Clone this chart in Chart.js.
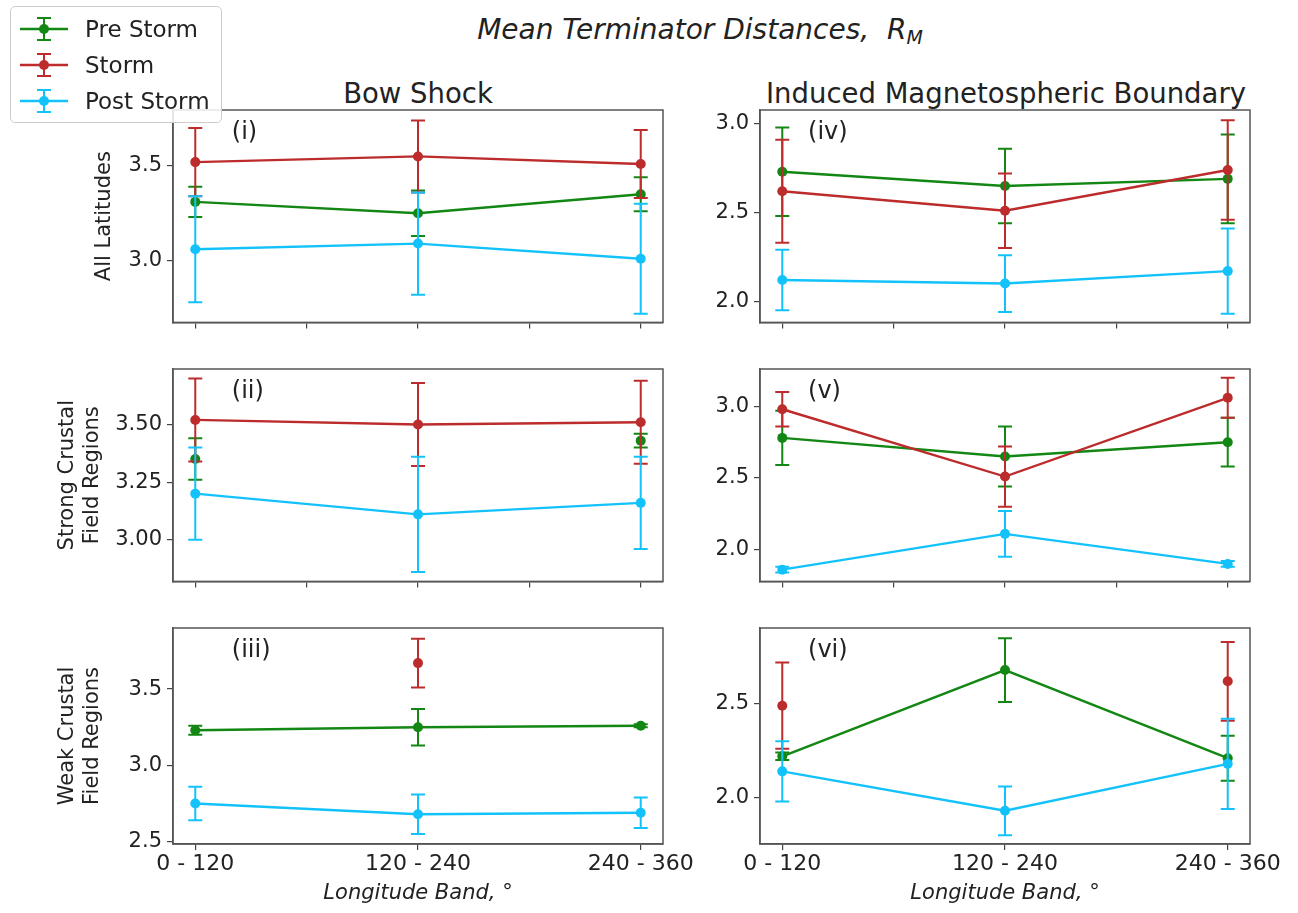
<!DOCTYPE html>
<html>
<head>
<meta charset="utf-8">
<script src="https://cdn.jsdelivr.net/npm/chart.js@4.4.0/dist/chart.umd.min.js"></script>
<style>
  html, body { margin: 0; padding: 0; background: #fff; }
  body { width: 1298px; height: 913px; position: relative; overflow: hidden;
         font-family: 'DejaVu Sans', sans-serif; color: #222; }
  .box { position: absolute; }
  .title { position: absolute; white-space: nowrap; transform: translate(-50%, -50%); }
  #suptitle { left: 700px; top: 30px; font-size: 28px; font-style: italic; }
  #suptitle sub { font-size: 19px; vertical-align: -5px; }
  .coltitle { top: 93px; font-size: 27.5px; }
  #legend { position: absolute; left: 10px; top: 6px; width: 212px; height: 117px;
            border: 1px solid #ccc; border-radius: 5px; background: rgba(255,255,255,0.85);
            z-index: 10; box-sizing: border-box; padding-top: 4px; }
  .lrow { height: 36px; display: flex; align-items: center; font-size: 23px; }
  .lrow svg { margin-left: 8px; margin-right: 16px; }
</style>
</head>
<body>
<div id="suptitle" class="title">Mean Terminator Distances,&nbsp; R<sub>M</sub></div>
<div class="title coltitle" style="left:418px">Bow Shock</div>
<div class="title coltitle" style="left:1006px">Induced Magnetospheric Boundary</div>
<div id="legend"></div>

<script>
const bands = ['0 - 120', '120 - 240', '240 - 360'];
const seriesNames = ['Pre Storm', 'Storm', 'Post Storm'];
const seriesColors = ['#138713', '#bd2c2c', '#14c2fb'];

// (i) Bow Shock, all latitudes
const bsAllPre = [3.31, 3.25, 3.35];
const bsAllPreErr = [0.08, 0.12, 0.09];
const bsAllStorm = [3.52, 3.55, 3.51];
const bsAllStormErr = [0.18, 0.19, 0.18];
const bsAllPost = [3.06, 3.09, 3.01];
const bsAllPostErr = [0.28, 0.27, 0.29];

// (ii) Bow Shock, strong crustal field
const bsStrongPre = [3.35, null, 3.43];
const bsStrongPreErr = [0.09, null, 0.03];
const bsStrongStorm = [3.52, 3.50, 3.51];
const bsStrongStormErr = [0.18, 0.18, 0.18];
const bsStrongPost = [3.20, 3.11, 3.16];
const bsStrongPostErr = [0.20, 0.25, 0.20];

// (iii) Bow Shock, weak crustal field
const bsWeakPre = [3.23, 3.25, 3.26];
const bsWeakPreErr = [0.03, 0.12, 0.01];
const bsWeakStorm = [null, 3.67, null];
const bsWeakStormErr = [null, 0.16, null];
const bsWeakPost = [2.75, 2.68, 2.69];
const bsWeakPostErr = [0.11, 0.13, 0.10];

// (iv) IMB, all latitudes
const imbAllPre = [2.73, 2.65, 2.69];
const imbAllPreErr = [0.25, 0.21, 0.25];
const imbAllStorm = [2.62, 2.51, 2.74];
const imbAllStormErr = [0.29, 0.21, 0.28];
const imbAllPost = [2.12, 2.10, 2.17];
const imbAllPostErr = [0.17, 0.16, 0.24];

// (v) IMB, strong crustal field
const imbStrongPre = [2.78, 2.65, 2.75];
const imbStrongPreErr = [0.19, 0.21, 0.17];
const imbStrongStorm = [2.98, 2.51, 3.06];
const imbStrongStormErr = [0.12, 0.21, 0.14];
const imbStrongPost = [1.86, 2.11, 1.90];
const imbStrongPostErr = [0.02, 0.16, 0.02];

// (vi) IMB, weak crustal field
const imbWeakPre = [2.22, 2.68, 2.21];
const imbWeakPreErr = [0.02, 0.17, 0.12];
const imbWeakStorm = [2.49, null, 2.62];
const imbWeakStormErr = [0.23, null, 0.21];
const imbWeakPost = [2.14, 1.93, 2.18];
const imbWeakPostErr = [0.16, 0.13, 0.24];

const panels = [
  { row: 0, col: 0, tag: '(i)', ylabel: ['All Latitudes'], ytp: 92, ymin: 2.674, ymax: 3.795, yticks: [3.0, 3.5], dec: 1,
    means: [bsAllPre, bsAllStorm, bsAllPost], errs: [bsAllPreErr, bsAllStormErr, bsAllPostErr] },
  { row: 1, col: 0, tag: '(ii)', ylabel: ['Strong Crustal', 'Field Regions'], ytp: 55, ymin: 2.819, ymax: 3.741, yticks: [3.0, 3.25, 3.5], dec: 2,
    means: [bsStrongPre, bsStrongStorm, bsStrongPost], errs: [bsStrongPreErr, bsStrongStormErr, bsStrongPostErr] },
  { row: 2, col: 0, tag: '(iii)', ylabel: ['Weak Crustal', 'Field Regions'], ytp: 55, ymin: 2.485, ymax: 3.90, yticks: [2.5, 3.0, 3.5], dec: 1,
    means: [bsWeakPre, bsWeakStorm, bsWeakPost], errs: [bsWeakPreErr, bsWeakStormErr, bsWeakPostErr] },
  { row: 0, col: 1, tag: '(iv)', ymin: 1.881, ymax: 3.078, yticks: [2.0, 2.5, 3.0], dec: 1,
    means: [imbAllPre, imbAllStorm, imbAllPost], errs: [imbAllPreErr, imbAllStormErr, imbAllPostErr] },
  { row: 1, col: 1, tag: '(v)', ymin: 1.778, ymax: 3.261, yticks: [2.0, 2.5, 3.0], dec: 1,
    means: [imbStrongPre, imbStrongStorm, imbStrongPost], errs: [imbStrongPreErr, imbStrongStormErr, imbStrongPostErr] },
  { row: 2, col: 1, tag: '(vi)', ymin: 1.753, ymax: 2.904, yticks: [2.0, 2.5], dec: 1,
    means: [imbWeakPre, imbWeakStorm, imbWeakPost], errs: [imbWeakPreErr, imbWeakStormErr, imbWeakPostErr] },
];

// legend
const legend = document.getElementById('legend');
seriesNames.forEach((name, k) => {
  const c = seriesColors[k];
  const row = document.createElement('div');
  row.className = 'lrow';
  row.innerHTML =
    `<svg width="50" height="30">
       <line x1="1" y1="15" x2="49" y2="15" stroke="${c}" stroke-width="2.4"/>
       <line x1="25" y1="4" x2="25" y2="26" stroke="${c}" stroke-width="2"/>
       <line x1="18" y1="4" x2="32" y2="4" stroke="${c}" stroke-width="2"/>
       <line x1="18" y1="26" x2="32" y2="26" stroke="${c}" stroke-width="2"/>
       <circle cx="25" cy="15" r="5" fill="${c}"/>
     </svg><span>${name}</span>`;
  legend.appendChild(row);
});

// error bars drawn just before each dataset so z-order follows the series
const errorBars = {
  id: 'errorBars',
  beforeDatasetDraw(chart, args) {
    const ds = chart.data.datasets[args.index];
    if (!ds.errors) return;
    const xs = chart.scales.x, ys = chart.scales.y, ctx = chart.ctx;
    ctx.save();
    ctx.strokeStyle = ds.borderColor;
    ctx.lineWidth = 2;
    ds.data.forEach((pt, i) => {
      const e = ds.errors[i];
      if (pt.y == null || e == null) return;
      const x = xs.getPixelForValue(pt.x);
      const y1 = ys.getPixelForValue(pt.y + e);
      const y2 = ys.getPixelForValue(pt.y - e);
      ctx.beginPath();
      ctx.moveTo(x, y1); ctx.lineTo(x, y2);
      ctx.moveTo(x - 7, y1); ctx.lineTo(x + 7, y1);
      ctx.moveTo(x - 7, y2); ctx.lineTo(x + 7, y2);
      ctx.stroke();
    });
    ctx.restore();
  }
};

// box round the plot area + panel tag
const frame = {
  id: 'frame',
  afterDraw(chart, args, opts) {
    const { ctx, chartArea: a } = chart;
    ctx.save();
    ctx.strokeStyle = '#555';
    ctx.lineWidth = 1.5;
    ctx.strokeRect(a.left, a.top, a.right - a.left, a.bottom - a.top);
    ctx.font = '24px "DejaVu Sans"';
    ctx.fillStyle = '#222';
    ctx.textBaseline = 'middle';
    ctx.fillText(opts.tag, a.left + opts.tx * (a.right - a.left), a.top + 0.105 * (a.bottom - a.top));
    ctx.restore();
  }
};

const frameX = [[173, 663], [760, 1250]];
const frameY = [[110, 326], [369, 585], [628, 844]];
const axisW = [173, 70];
const xAxisH = [14, 14, 66];
const padTop = 24, padRight = 48;
const fam = "'DejaVu Sans', sans-serif";

panels.forEach(p => {
  const bottom = p.row === 2;
  const [fx0, fx1] = frameX[p.col];
  const [fy0, fy1] = frameY[p.row];
  const left = fx0 - axisW[p.col], top = fy0 - padTop;
  const div = document.createElement('div');
  div.className = 'box';
  div.style.cssText = `left:${left}px;top:${top}px;width:${fx1 - left + padRight}px;height:${fy1 - top + xAxisH[p.row]}px`;
  const cv = document.createElement('canvas');
  div.appendChild(cv);
  document.body.appendChild(div);

  new Chart(cv, {
    type: 'line',
    data: {
      datasets: seriesNames.map((name, k) => ({
        label: name,
        data: p.means[k].map((v, i) => ({ x: i, y: v })),
        errors: p.errs[k],
        borderColor: seriesColors[k],
        backgroundColor: seriesColors[k],
        pointBackgroundColor: seriesColors[k],
        pointBorderWidth: 0,
        pointRadius: 5,
        borderWidth: 2.4,
        order: 3 - k
      }))
    },
    plugins: [errorBars, frame],
    options: {
      responsive: true,
      maintainAspectRatio: false,
      animation: false,
      events: [],
      layout: { padding: { top: padTop, right: padRight, left: 0, bottom: 0 } },
      plugins: {
        legend: { display: false },
        tooltip: { enabled: false },
        frame: { tag: p.tag, tx: p.col === 0 ? 0.12 : 0.098 }
      },
      scales: {
        x: {
          type: 'linear', min: -0.1, max: 2.1,
          afterBuildTicks: s => { s.ticks = (bottom ? [0, 1, 2] : [0, 0.5, 1, 1.5, 2]).map(v => ({ value: v })); },
          afterFit: s => { s.height = xAxisH[p.row]; },
          ticks: {
            autoSkip: false, maxRotation: 0, padding: 1, color: '#222',
            font: { family: fam, size: 22 },
            callback: v => (bottom && Number.isInteger(v)) ? bands[v] : ''
          },
          grid: { drawOnChartArea: false, drawTicks: true, tickLength: 6, color: '#444', lineWidth: 1.2 },
          border: { display: true, color: '#555', width: 1.5 },
          title: {
            display: bottom, text: 'Longitude Band, °', color: '#222',
            font: { family: fam, size: 21, style: 'italic' }, padding: { top: 0, bottom: 4 }
          }
        },
        y: {
          min: p.ymin, max: p.ymax,
          afterBuildTicks: s => { s.ticks = p.yticks.map(v => ({ value: v })); },
          afterFit: s => { s.width = axisW[p.col]; },
          ticks: {
            padding: 5, color: '#222', font: { family: fam, size: 21 },
            callback: v => v.toFixed(p.dec)
          },
          grid: { drawOnChartArea: false, drawTicks: true, tickLength: 6, color: '#444', lineWidth: 1.2 },
          border: { display: true, color: '#555', width: 1.5 },
          title: {
            display: p.col === 0, text: p.ylabel || '', color: '#222',
            font: { family: fam, size: 21 }, padding: { top: p.ytp || 0, bottom: 0 }
          }
        }
      }
    }
  });
});
</script>
</body>
</html>
